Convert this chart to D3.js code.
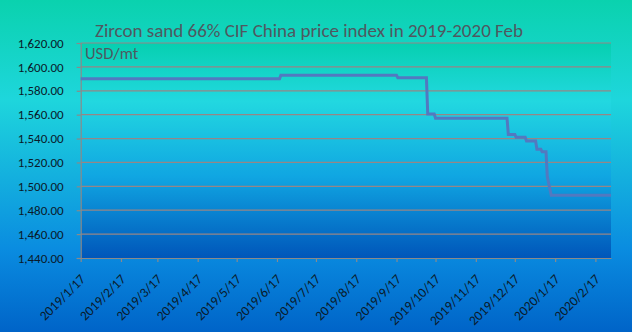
<!DOCTYPE html>
<html><head><meta charset="utf-8">
<script src="https://cdn.jsdelivr.net/npm/d3@7"></script>
<style>html,body{margin:0;padding:0;overflow:hidden;background:#0a8ce0}</style>
</head><body>
<svg id="c" width="632" height="332"></svg>
<script>
const title = "Zircon sand 66% CIF China price index in 2019-2020 Feb";
const unitLabel = "USD/mt";
const dates = ["2019-01-17","2019-06-19","2019-06-20","2019-09-17","2019-09-18","2019-10-10","2019-10-11","2019-10-16","2019-10-17","2019-12-11","2019-12-12","2019-12-17","2019-12-18","2019-12-25","2019-12-26","2020-01-02","2020-01-03","2020-01-06","2020-01-07","2020-01-10","2020-01-11","2020-01-14","2020-02-29"];
const prices = [1590,1590,1593,1593,1591,1591,1560.5,1560.5,1557,1557,1543.5,1543.5,1541,1541,1538,1538,1531,1531,1529,1529,1508,1492.5,1492.5];
const xTickLabels = ["2019/1/17","2019/2/17","2019/3/17","2019/4/17","2019/5/17","2019/6/17","2019/7/17","2019/8/17","2019/9/17","2019/10/17","2019/11/17","2019/12/17","2020/1/17","2020/2/17"];
const yTicks = [1440,1460,1480,1500,1520,1540,1560,1580,1600,1620];
const xDomain = ["2019-01-17","2020-02-29"];

const parse = d3.timeParse("%Y-%m-%d");
const parseTick = d3.timeParse("%Y/%m/%d");
const data = dates.map((d,i)=>({date:parse(d), v:prices[i]}));

const svg = d3.select("#c");
const W=632,H=332;
const L=80.7,R=611,T=43,B=258;
const FONT = "Carlito, Lato, sans-serif";

const defs = svg.append("defs");
const g1 = defs.append("linearGradient").attr("id","bg").attr("x1",0).attr("y1",0).attr("x2",0).attr("y2",1);
[[0,"#0ad2ae"],[0.3,"#1ed6dc"],[0.75,"#0a8ce0"],[1,"#0064c8"]].forEach(s=>g1.append("stop").attr("offset",s[0]).attr("stop-color",s[1]));
const g2 = defs.append("linearGradient").attr("id","pa").attr("x1",0).attr("y1",0).attr("x2",0).attr("y2",1);
[[0,"#06d0b0"],[0.27,"#22d8e0"],[0.62,"#10a6e2"],[1,"#0056ba"]].forEach(s=>g2.append("stop").attr("offset",s[0]).attr("stop-color",s[1]));

svg.append("rect").attr("width",W).attr("height",H).attr("fill","url(#bg)");

const x = d3.scaleTime().domain(xDomain.map(parse)).range([L,R]);
const y = d3.scaleLinear().domain([1440,1620]).range([B,T]);

svg.append("rect").attr("x",L).attr("y",T).attr("width",R-L).attr("height",B-T).attr("fill","url(#pa)");

// gridlines
svg.append("g").selectAll("line").data(yTicks.filter(t=>t>1440)).join("line")
  .attr("x1",L).attr("x2",R).attr("y1",d=>y(d)).attr("y2",d=>y(d))
  .attr("stroke","#968686").attr("stroke-width",1.2);

// y axis
const yAxis = svg.append("g").attr("transform",`translate(${L},0)`)
  .call(d3.axisLeft(y).tickValues(yTicks).tickFormat(d3.format(",.2f")).tickSize(4).tickPadding(13));
yAxis.select(".domain").attr("stroke","#8a8a8a").attr("stroke-width",1.2);
yAxis.selectAll(".tick line").attr("stroke","#8a8a8a").attr("stroke-width",1.2);
yAxis.selectAll("text").attr("fill","#0a1a2a").style("font-family",FONT).style("font-size","13px");

// x axis
const xAxis = svg.append("g").attr("transform",`translate(0,${B})`)
  .call(d3.axisBottom(x).tickValues(xTickLabels.map(parseTick)).tickFormat(d3.timeFormat("%Y/%-m/%-d")).tickSize(4).tickSizeOuter(0));
xAxis.select(".domain").attr("stroke","#8a8a8a").attr("stroke-width",1.2);
xAxis.selectAll(".tick line").attr("stroke","#8a8a8a").attr("stroke-width",1.2);
xAxis.selectAll("text").attr("fill","#0a1a2a").style("font-family",FONT).style("font-size","13.5px")
  .attr("text-anchor","end").attr("dy",0).attr("y",0)
  .attr("transform","translate(5,22) rotate(-45)");

// line
svg.append("path").datum(data)
  .attr("fill","none").attr("stroke","#5279c0").attr("stroke-width",3)
  .attr("d", d3.line().x(d=>x(d.date)).y(d=>y(d.v)));

svg.append("text").attr("x",95).attr("y",37).text(title)
  .attr("fill","#4f5860").style("font-family",FONT).style("font-size","19px");
svg.append("text").attr("x",85).attr("y",59).text(unitLabel)
  .attr("fill","#4f5860").style("font-family",FONT).style("font-size","16.5px");
</script>
</body></html>
